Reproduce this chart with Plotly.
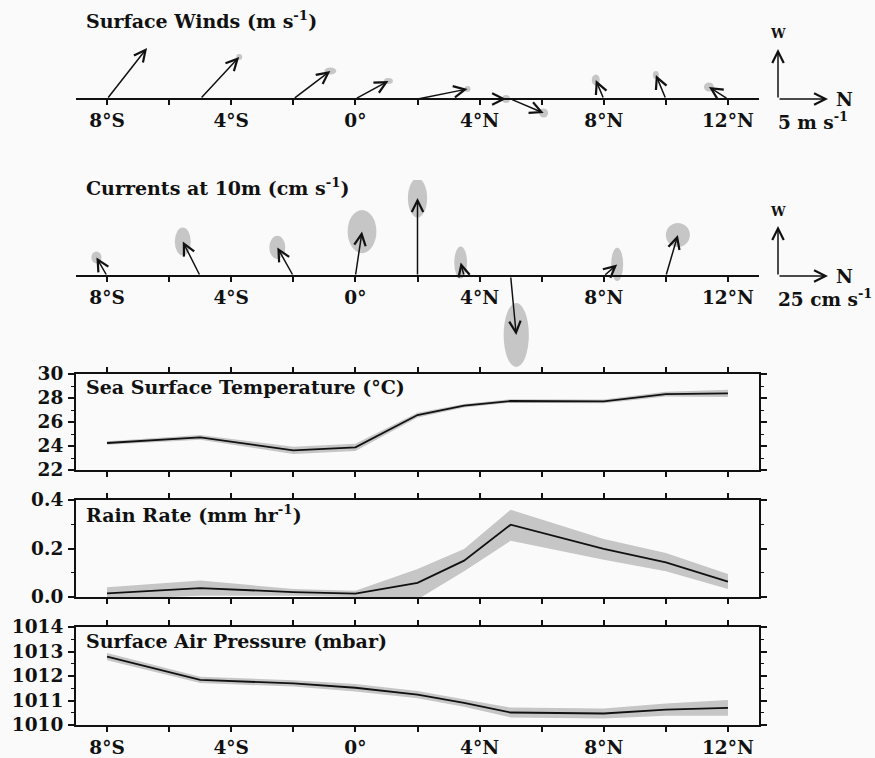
import plotly.graph_objects as go

# ---------------- data ----------------
lat = [-8, -5, -2, 0, 2, 3.5, 5, 8, 10, 12]

# surface winds (m/s): along-axis (northward) and upward-plotted (westward) components
wind_n = [4.0, 3.9, 3.7, 3.3, 5.0, 4.2, 3.3, -0.8, -1.0, -1.9]
wind_w = [5.1, 4.2, 2.8, 1.8, 1.0, 0.0, -1.4, 1.9, 2.4, 1.2]
wind_err_n = [0.0, 0.3, 0.6, 0.45, 0.3, 0.4, 0.45, 0.4, 0.3, 0.5]
wind_err_w = [0.0, 0.3, 0.35, 0.3, 0.3, 0.4, 0.45, 0.55, 0.4, 0.45]

# currents at 10 m (cm/s)
cur_n = [-5.3, -8.7, -8.0, 3.3, 0.0, -1.7, 2.8, 6.7, 6.0, -1.5]
cur_w = [9.3, 17.2, 14.3, 22.2, 39.0, 6.7, -29.5, 5.8, 20.5, 0.0]
cur_err_n = [2.5, 4.0, 4.0, 7.2, 4.8, 3.2, 6.3, 3.0, 6.0, 0.0]
cur_err_w = [3.0, 7.0, 5.8, 10.8, 9.8, 8.0, 16.0, 8.3, 6.0, 0.0]

sst = [24.25, 24.72, 23.64, 23.89, 26.58, 27.36, 27.75, 27.72, 28.33, 28.39]
sst_err = [0.15, 0.2, 0.3, 0.3, 0.2, 0.15, 0.15, 0.15, 0.2, 0.3]

rain = [0.015, 0.037, 0.02, 0.014, 0.058, 0.15, 0.298, 0.198, 0.143, 0.063]
rain_lo = [-0.01, 0.005, 0.005, 0.0, -0.01, 0.106, 0.232, 0.154, 0.106, 0.033]
rain_hi = [0.04, 0.068, 0.033, 0.026, 0.115, 0.198, 0.36, 0.239, 0.181, 0.095]

pres = [1012.79, 1011.84, 1011.70, 1011.52, 1011.24, 1010.90, 1010.51, 1010.47, 1010.63, 1010.70]
pres_err = [0.15, 0.13, 0.13, 0.15, 0.15, 0.15, 0.2, 0.2, 0.25, 0.32]

xtick_vals = [-8, -6, -4, -2, 0, 2, 4, 6, 8, 10, 12]
xtick_text = ["8°S", "", "4°S", "", "0°", "", "4°N", "", "8°N", "", "12°N"]

# ---------------- layout geometry (pixels) ----------------
W, H = 875, 758
X_LEFT, X_RIGHT = 76, 759
XRANGE = [-9, 13]
PX_PER_DEG = (X_RIGHT - X_LEFT) / (XRANGE[1] - XRANGE[0])


def py(p):
    return 1 - p / H


def px(p):
    return p / W


FONT = dict(family="DejaVu Serif", size=18.5, color="#111111", weight="bold")
TFONT = dict(FONT, size=19)
INK = "#111111"
BAND = "#c6c6c6"
BG = "#fafafa"

fig = go.Figure()
annotations = []
shapes = []

ARROW = dict(showarrow=True, arrowhead=5, arrowsize=1.5, arrowwidth=1.5,
             arrowcolor=INK, standoff=0, startstandoff=0, text="")

# ---------------- vector panels ----------------
vec_panels = [
    ("x", "y", 99, 10.0, 30, 140, wind_n, wind_w, wind_err_n, wind_err_w,
     "Surface Winds (m s<sup>-1</sup>)", 20, "5 m s<sup>-1</sup>", 5),
    ("x2", "y2", 276, 2.0, 180, 372, cur_n, cur_w, cur_err_n, cur_err_w,
     "Currents at 10m (cm s<sup>-1</sup>)", 187, "25 cm s<sup>-1</sup>", 25),
]

layout_axes = {}
for xa, ya, base, ppu, top, bot, vn, vw, en, ew, title, ty, unit, key in vec_panels:
    xname = "xaxis" if xa == "x" else "xaxis" + xa[1:]
    yname = "yaxis" if ya == "y" else "yaxis" + ya[1:]
    layout_axes[xname] = dict(
        domain=[px(X_LEFT), px(X_RIGHT)], range=XRANGE, anchor="free", position=py(base),
        showline=True, linecolor=INK, linewidth=2, showgrid=False, zeroline=False,
        ticks="outside", ticklen=5, tickwidth=1.5, tickcolor=INK,
        tickvals=xtick_vals, ticktext=xtick_text, ticklabelstandoff=0,
        tickfont=FONT, automargin=False,
    )
    layout_axes[yname] = dict(
        domain=[py(bot), py(top)], range=[(base - bot) / ppu, (base - top) / ppu],
        anchor=xa, visible=False, showgrid=False, zeroline=False, automargin=False,
    )
    deg_per_unit = ppu / PX_PER_DEG
    for la, a, b, ea, eb in zip(lat, vn, vw, en, ew):
        tx = la + a * deg_per_unit
        if ea > 0 and eb > 0:
            shapes.append(dict(
                type="circle", xref=xa, yref=ya,
                x0=tx - ea * deg_per_unit, x1=tx + ea * deg_per_unit,
                y0=b - eb, y1=b + eb,
                fillcolor=BAND, line=dict(width=0), layer="below",
            ))
        annotations.append(dict(ARROW, xref=xa, yref=ya, axref=xa, ayref=ya,
                                x=tx, y=b, ax=la, ay=0))
    # key arrows (scale from the panel's pixels-per-unit)
    key_px = key * ppu
    kx = 778
    annotations.append(dict(ARROW, xref="paper", yref="paper", x=px(kx),
                            y=py(base - key_px), ax=0, ay=key_px))
    annotations.append(dict(ARROW, xref="paper", yref="paper", x=px(kx + key_px),
                            y=py(base), ax=-key_px, ay=0))
    annotations.append(dict(xref="paper", yref="paper", x=px(kx), y=py(base - key_px - 15),
                            text="W", showarrow=False, font=dict(FONT, size=13),
                            xanchor="center", yanchor="middle"))
    annotations.append(dict(xref="paper", yref="paper", x=px(kx + key_px + 6), y=py(base),
                            text="N", showarrow=False, font=FONT,
                            xanchor="left", yanchor="middle"))
    annotations.append(dict(xref="paper", yref="paper", x=px(kx - 2), y=py(base + 22),
                            text=unit, showarrow=False, font=FONT,
                            xanchor="left", yanchor="middle"))
    annotations.append(dict(xref="paper", yref="paper", x=px(84), y=py(ty),
                            text=title, showarrow=False, font=TFONT,
                            xanchor="left", yanchor="middle"))
    fig.add_trace(go.Scatter(x=[XRANGE[0]], y=[0], xaxis=xa, yaxis=ya, mode="markers",
                             marker=dict(opacity=0), showlegend=False, hoverinfo="skip"))

# ---------------- line panels ----------------
line_panels = [
    ("x3", "y3", 374, 470, [22, 30], 2, 1, sst,
     [s - e for s, e in zip(sst, sst_err)], [s + e for s, e in zip(sst, sst_err)],
     "Sea Surface Temperature (°C)", 387, False, "d"),
    ("x4", "y4", 500, 597, [0, 0.4], 0.2, 0.1, rain, rain_lo, rain_hi,
     "Rain Rate (mm hr<sup>-1</sup>)", 514, False, ".1f"),
    ("x5", "y5", 627, 725, [1010, 1014], 1, 0.5, pres,
     [s - e for s, e in zip(pres, pres_err)], [s + e for s, e in zip(pres, pres_err)],
     "Surface Air Pressure (mbar)", 641, True, "d"),
]

for xa, ya, top, bot, yr, dt, mdt, ys, lo, hi, title, ty, showx, fmt in line_panels:
    xname = "xaxis" + xa[1:]
    yname = "yaxis" + ya[1:]
    layout_axes[xname] = dict(
        domain=[px(X_LEFT), px(X_RIGHT)], range=XRANGE, anchor=ya,
        showline=True, linecolor=INK, linewidth=2, mirror="allticks",
        showgrid=False, zeroline=False, ticks="outside", ticklen=5, tickwidth=1.5,
        tickcolor=INK, tickvals=xtick_vals,
        ticktext=xtick_text if showx else [""] * len(xtick_vals),
        tickfont=FONT, ticklabelstandoff=0, automargin=False,
    )
    layout_axes[yname] = dict(
        domain=[py(bot), py(top)], range=yr, anchor=xa,
        showline=True, linecolor=INK, linewidth=2, mirror="allticks",
        showgrid=False, zeroline=False, ticks="outside", ticklen=6, tickwidth=1.5,
        tickcolor=INK, dtick=dt, tick0=yr[0], tickformat=fmt, tickfont=FONT,
        ticklabelstandoff=1, automargin=False,
        minor=dict(dtick=mdt, tick0=yr[0], ticks="outside", ticklen=3, tickwidth=1.2,
                   tickcolor=INK, showgrid=False),
    )
    fig.add_trace(go.Scatter(x=lat, y=lo, xaxis=xa, yaxis=ya, mode="lines",
                             line=dict(width=0, color=BAND), showlegend=False,
                             hoverinfo="skip"))
    fig.add_trace(go.Scatter(x=lat, y=hi, xaxis=xa, yaxis=ya, mode="lines",
                             line=dict(width=0, color=BAND), fill="tonexty",
                             fillcolor=BAND, showlegend=False, hoverinfo="skip"))
    fig.add_trace(go.Scatter(x=lat, y=ys, xaxis=xa, yaxis=ya, mode="lines",
                             line=dict(width=1.8, color=INK), showlegend=False))
    annotations.append(dict(xref="paper", yref="paper", x=px(84), y=py(ty),
                            text=title, showarrow=False, font=TFONT,
                            xanchor="left", yanchor="middle"))

fig.update_layout(
    width=W, height=H, margin=dict(l=0, r=0, t=0, b=0, autoexpand=False),
    paper_bgcolor=BG, plot_bgcolor=BG, font=FONT, showlegend=False,
    annotations=annotations, shapes=shapes, **layout_axes,
)

fig.write_html("out.html")
